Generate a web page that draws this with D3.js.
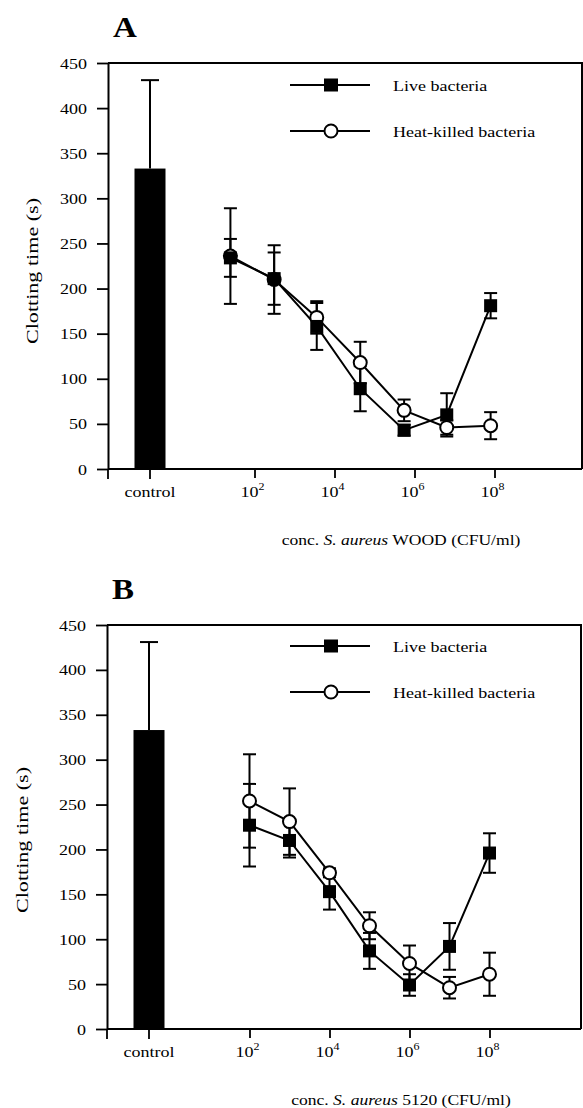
<!DOCTYPE html>
<html>
<head>
<meta charset="utf-8">
<script src="https://cdn.jsdelivr.net/npm/d3@7"></script>
<style>
  html, body { margin: 0; padding: 0; background: #fff; }
  svg { display: block; }
</style>
</head>
<body>
<svg id="chart" width="583" height="1108"></svg>
<script>
// ---- data ----
const yTicks = [0, 50, 100, 150, 200, 250, 300, 350, 400, 450];
const xTickExps = [2, 4, 6, 8];
const controlLabel = "control";
const seriesNames = ["Live bacteria", "Heat-killed bacteria"];

// control bar (same in both panels)
const controlMean = 333;
const controlErr = 98;

// panel A: S. aureus WOOD
const concA = [25, 310, 3600, 44000, 550000, 6400000, 80000000];
const liveA = [234, 211, 158, 89, 43, 60, 181];
const liveErrA = [21, 29, 26, 25, 6, 24, 14];
const heatA = [236, 210, 168, 118, 65, 46, 48];
const heatErrA = [53, 38, 18, 23, 12, 8, 15];

// panel B: S. aureus 5120
const concB = [1e2, 1e3, 1e4, 1e5, 1e6, 1e7, 1e8];
const liveB = [227, 210, 153, 87, 49, 92, 196];
const liveErrB = [46, 19, 20, 20, 12, 26, 22];
const heatB = [254, 231, 174, 115, 73, 46, 61];
const heatErrB = [52, 37, 5, 15, 20, 12, 24];

const FONT = '"Liberation Serif", "Times New Roman", Times, serif';
const SX = 1.2; // the scan's type is a bit wide
const svg = d3.select("#chart");

function stretched(sel, x, y, sx = SX) {
  return sel.attr("transform", `translate(${x},${y}) scale(${sx},1)`);
}

function drawPanel(p) {
  const g = svg.append("g")
    .attr("transform", `translate(${p.left},${p.top})`)
    .attr("font-family", FONT);

  const y = d3.scaleLinear().domain([0, 450]).range([p.height, 0]);
  const x = d3.scaleLog().domain([1, 1e10]).range([p.decade0, p.decade0 + 400]);

  // panel letter
  stretched(g.append("text"), p.letterX, -26, 1.1)
    .attr("font-size", 30)
    .attr("font-weight", "bold")
    .text(p.letter);

  // frame: top + right
  g.append("path")
    .attr("d", `M0,0H${p.width}V${p.height}`)
    .attr("fill", "none")
    .attr("stroke", "#000")
    .attr("stroke-width", 2);

  // y axis
  const gy = g.append("g")
    .call(d3.axisLeft(y).tickValues(yTicks).tickSize(11).tickSizeOuter(0));
  gy.attr("font-family", FONT).attr("font-size", 15);
  gy.select(".domain").attr("stroke-width", 2);
  gy.selectAll(".tick line").attr("stroke-width", 1.8);
  gy.selectAll(".tick text")
    .attr("x", null).attr("dy", null)
    .attr("fill", "#000")
    .attr("transform", `translate(-21,5) scale(${SX},1)`);

  // y label
  g.append("text")
    .attr("transform", `translate(${p.yLabelX},${p.yLabelY}) rotate(-90) scale(1.3,1)`)
    .attr("text-anchor", "middle")
    .attr("font-size", 17)
    .text("Clotting time (s)");

  // x axis line
  g.append("line")
    .attr("x1", 0).attr("x2", p.width)
    .attr("y1", p.height).attr("y2", p.height)
    .attr("stroke", "#000").attr("stroke-width", 2);

  const gx = g.append("g")
    .attr("transform", `translate(0,${p.height})`)
    .call(d3.axisBottom(x)
      .tickValues(xTickExps.map(e => Math.pow(10, e)))
      .tickSize(9).tickSizeOuter(0).tickFormat(""));
  gx.select(".domain").remove();
  gx.selectAll(".tick line").attr("stroke-width", 1.8);

  // extra ticks: axis start + control
  [0, p.controlX].forEach(tx => {
    gx.append("line")
      .attr("x1", tx).attr("x2", tx).attr("y1", 0).attr("y2", 10)
      .attr("stroke", "#000").attr("stroke-width", 1.8);
  });

  stretched(g.append("text"), p.controlX, p.height + 28)
    .attr("text-anchor", "middle").attr("font-size", 15)
    .text(controlLabel);

  xTickExps.forEach(e => {
    const t = stretched(g.append("text"), x(Math.pow(10, e)) - 2, p.height + 28)
      .attr("text-anchor", "middle").attr("font-size", 15);
    t.append("tspan").text("10");
    t.append("tspan").attr("dy", -7).attr("font-size", 10).text(e);
  });

  // x title
  const xt = stretched(g.append("text"), p.xTitleX, p.height + 76, 1.17)
    .attr("text-anchor", "middle").attr("font-size", 15);
  xt.append("tspan").text("conc. ");
  xt.append("tspan").attr("font-style", "italic").text("S. aureus");
  xt.append("tspan").text(" " + p.strain + " (CFU/ml)");

  // control bar + upward error
  g.append("rect")
    .attr("x", p.controlX - p.barW / 2)
    .attr("width", p.barW)
    .attr("y", y(controlMean))
    .attr("height", y(0) - y(controlMean))
    .attr("fill", "#000");
  g.append("line")
    .attr("x1", p.controlX).attr("x2", p.controlX)
    .attr("y1", y(controlMean)).attr("y2", y(controlMean + controlErr))
    .attr("stroke", "#000").attr("stroke-width", 2);
  g.append("line")
    .attr("x1", p.controlX - 9).attr("x2", p.controlX + 9)
    .attr("y1", y(controlMean + controlErr)).attr("y2", y(controlMean + controlErr))
    .attr("stroke", "#000").attr("stroke-width", 2);

  const live = p.conc.map((c, i) => ({ c, v: p.live[i], e: p.liveErr[i] }));
  const heat = p.conc.map((c, i) => ({ c, v: p.heat[i], e: p.heatErr[i] }));

  const line = d3.line().x(d => x(d.c)).y(d => y(d.v));
  const cap = 6.5;

  function errorBars(data) {
    const eb = g.append("g").attr("stroke", "#000").attr("stroke-width", 2);
    data.forEach(d => {
      const cx = x(d.c);
      eb.append("line").attr("x1", cx).attr("x2", cx)
        .attr("y1", y(d.v - d.e)).attr("y2", y(d.v + d.e));
      [d.v - d.e, d.v + d.e].forEach(v => {
        eb.append("line").attr("x1", cx - cap).attr("x2", cx + cap)
          .attr("y1", y(v)).attr("y2", y(v));
      });
    });
  }

  errorBars(heat);
  errorBars(live);

  [heat, live].forEach(data => {
    g.append("path").datum(data)
      .attr("d", line)
      .attr("fill", "none").attr("stroke", "#000").attr("stroke-width", 2);
  });

  g.selectAll(".heat").data(heat).enter().append("circle")
    .attr("class", "heat")
    .attr("cx", d => x(d.c)).attr("cy", d => y(d.v)).attr("r", 6.5)
    .attr("fill", "#fff").attr("stroke", "#000").attr("stroke-width", 2);

  g.selectAll(".live").data(live).enter().append("rect")
    .attr("class", "live")
    .attr("x", d => x(d.c) - 6.5).attr("y", d => y(d.v) - 6.5)
    .attr("width", 13).attr("height", 13)
    .attr("fill", "#000");

  // legend
  const lg = g.append("g").attr("transform", `translate(${p.legendX},${p.legendY})`);
  seriesNames.forEach((name, i) => {
    const row = lg.append("g").attr("transform", `translate(0,${i * 46})`);
    row.append("line").attr("x1", 0).attr("x2", 80).attr("y1", 0).attr("y2", 0)
      .attr("stroke", "#000").attr("stroke-width", 2);
    if (i === 0) {
      row.append("rect").attr("x", 34).attr("y", -6.5).attr("width", 14).attr("height", 13)
        .attr("fill", "#000");
    } else {
      row.append("circle").attr("cx", 41).attr("cy", 0).attr("r", 6.5)
        .attr("fill", "#fff").attr("stroke", "#000").attr("stroke-width", 2);
    }
    stretched(row.append("text"), 103, 6)
      .attr("font-size", 15)
      .text(name);
  });
}

drawPanel({
  letter: "A", strain: "WOOD",
  left: 108, top: 63, width: 474, height: 406,
  decade0: 66.5, controlX: 42, barW: 31,
  letterX: 5, yLabelX: -70, yLabelY: 208, xTitleX: 293,
  legendX: 182, legendY: 22,
  conc: concA, live: liveA, liveErr: liveErrA, heat: heatA, heatErr: heatErrA
});

drawPanel({
  letter: "B", strain: "5120",
  left: 107, top: 625, width: 474, height: 404,
  decade0: 62.5, controlX: 42, barW: 31,
  letterX: 5, yLabelX: -79, yLabelY: 215, xTitleX: 294,
  legendX: 183, legendY: 21,
  conc: concB, live: liveB, liveErr: liveErrB, heat: heatB, heatErr: heatErrB
});
</script>
</body>
</html>
